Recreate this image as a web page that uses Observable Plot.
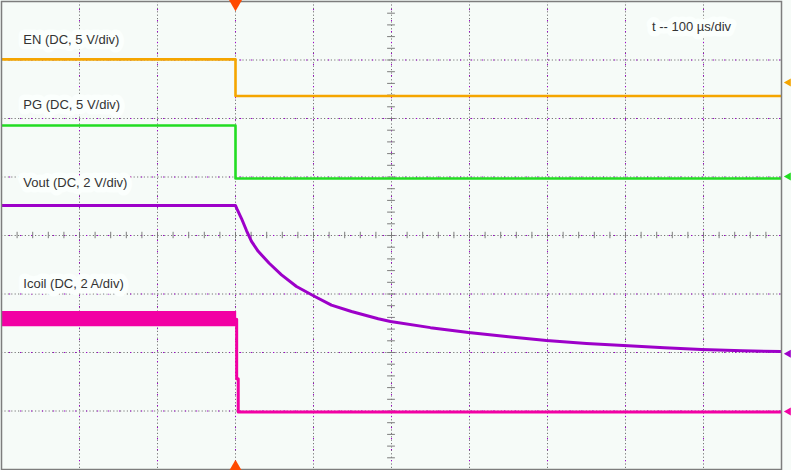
<!DOCTYPE html>
<html>
<head>
<meta charset="utf-8">
<script src="https://cdn.jsdelivr.net/npm/d3@7"></script>
<script src="https://cdn.jsdelivr.net/npm/@observablehq/plot@0.6"></script>
<style>
  html, body { margin: 0; padding: 0; background: #f6fbf8; }
</style>
</head>
<body>
<div id="chart"></div>
<script>
// Time in µs (trigger at 0), vertical in screen divisions (center = 0)
const enT = [-300, 0, 0, 700];
const enV = [3.01, 3.01, 2.385, 2.385];

const pgT = [-300, 0, 0, 700];
const pgV = [1.88, 1.88, 0.974, 0.974];

const voutT = [-300, 0, 2, 7.7, 14.1, 20.5, 29.1, 43.2, 59, 78.2, 101.7, 123, 148.7, 183, 198.7, 250, 298.7, 350, 398.7, 450, 497.4, 550, 597.4, 650, 700];
const voutV = [0.513, 0.513, 0.45, 0.29, 0.085, -0.10, -0.27, -0.474, -0.672, -0.872, -1.043, -1.19, -1.30, -1.424, -1.470, -1.575, -1.658, -1.73, -1.795, -1.845, -1.880, -1.92, -1.949, -1.97, -1.983];

const icoilBandT = [-300, 1.5];
const icoilBandHi = [-1.30, -1.30];
const icoilBandLo = [-1.56, -1.56];
const icoilT = [1.5, 1.5, 3.5, 3.5, 700];
const icoilV = [-1.43, -2.45, -2.45, -3.017, -3.017];

const labels = ["EN (DC, 5 V/div)", "PG (DC, 5 V/div)", "Vout (DC, 2 V/div)", "Icoil (DC, 2 A/div)", "t -- 100 µs/div"];
const labelT = [-272, -272, -272, -272, 534];
const labelV = [3.35, 2.24, 0.906, -0.82, 3.57];

const markerV = [2.615, 1.01, -2.02, -3.01];
const markerColors = ["#f5a500", "#22dd22", "#9d00c9", "#f200a4"];

const gridT = [-200, -100, 0, 100, 200, 300, 400, 500, 600];
const gridV = [-3, -2, -1, 0, 1, 2, 3];
const minorT = d3.range(-300, 701, 20);
const minorV = d3.range(-4, 4.001, 0.2);

const en = enT.map((t, i) => ({t, v: enV[i]}));
const pg = pgT.map((t, i) => ({t, v: pgV[i]}));
const vout = voutT.map((t, i) => ({t, v: voutV[i]}));
const band = icoilBandT.map((t, i) => ({t, hi: icoilBandHi[i], lo: icoilBandLo[i]}));
const icoil = icoilT.map((t, i) => ({t, v: icoilV[i]}));
const lab = labels.map((s, i) => ({s, t: labelT[i], v: labelV[i]}));
const markers = markerV.map((v, i) => ({v, c: markerColors[i]}));

const chart = Plot.plot({
  width: 791,
  height: 470,
  marginLeft: 1,
  marginRight: 10,
  marginTop: 1,
  marginBottom: 1,
  x: {domain: [-300, 700], axis: null},
  y: {domain: [-4, 4], axis: null},
  style: {background: "#f6fbf8", fontFamily: "'Liberation Sans', Arial, sans-serif", fontSize: "13px", overflow: "visible"},
  marks: [
    // grid
    Plot.ruleX(gridT, {stroke: "#777", strokeWidth: 1, strokeDasharray: "1.2,2.2"}),
    Plot.ruleY(gridV, {stroke: "#777", strokeWidth: 1, strokeDasharray: "1.2,2.2"}),
    Plot.ruleX(gridT, {stroke: "#a000d0", strokeWidth: 1, strokeDasharray: "1.2,9.8", strokeDashoffset: 3}),
    Plot.ruleY(gridV, {stroke: "#a000d0", strokeWidth: 1, strokeDasharray: "1.2,9.8", strokeDashoffset: 3}),
    // minor ticks on the center crosshair
    Plot.ruleX(minorT, {x: d => d, y1: -0.055, y2: 0.055, stroke: "#7d7d7d", strokeWidth: 1}),
    Plot.ruleY(minorV, {y: d => d, x1: 195, x2: 205, stroke: "#7d7d7d", strokeWidth: 1}),
    // labels
    Plot.text(lab, {x: "t", y: "v", text: "s", textAnchor: "start", fill: "#333", stroke: "#fbfffd", strokeWidth: 11, fontSize: 13}),
    // traces
    Plot.line(en, {x: "t", y: "v", stroke: "#f5a500", strokeWidth: 2.6, clip: true}),
    Plot.line(pg, {x: "t", y: "v", stroke: "#22dd22", strokeWidth: 2.6, clip: true}),
    Plot.areaY(band, {x: "t", y1: "lo", y2: "hi", fill: "#f200a4", clip: true}),
    Plot.line(icoil, {x: "t", y: "v", stroke: "#f200a4", strokeWidth: 3, clip: true}),
    Plot.line(vout, {x: "t", y: "v", stroke: "#9d00c9", strokeWidth: 3, clip: true}),
    // frame
    Plot.frame({stroke: "#7d7d7d", strokeWidth: 1.5}),
    // trigger markers
    Plot.dot([0], {x: d => d, y: 4, symbol: "triangle", rotate: 180, r: 5, fill: "#ff4a00", dy: 2}),
    Plot.dot([0], {x: d => d, y: -4, symbol: "triangle", r: 5, fill: "#ff4a00", dy: -2}),
    // ground reference markers on right edge
    Plot.dot(markers, {x: 700, y: "v", symbol: "triangle", rotate: -90, r: 3, fill: "c", dx: 7})
  ]
});
document.getElementById("chart").appendChild(chart);
</script>
</body>
</html>
